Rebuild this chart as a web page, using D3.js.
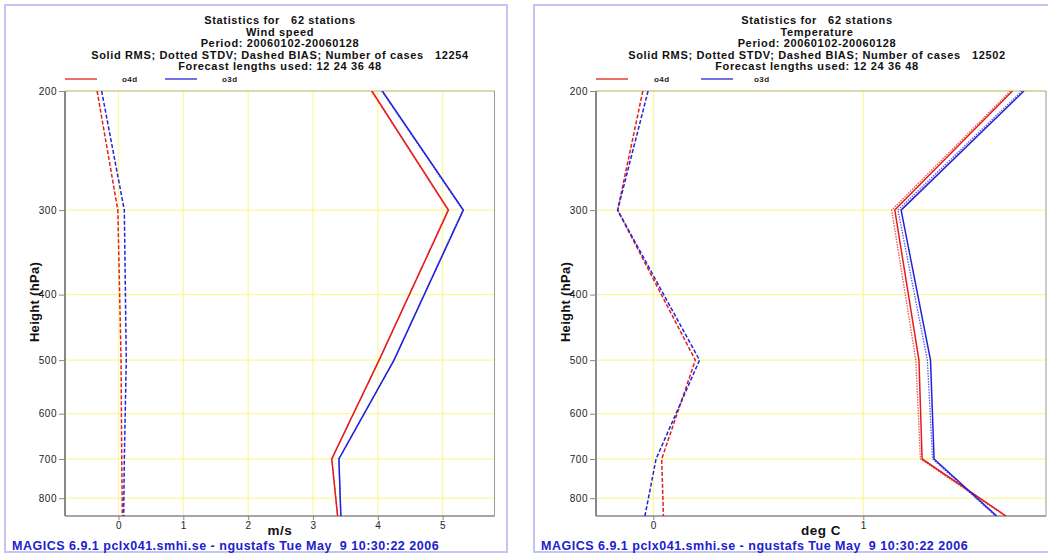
<!DOCTYPE html>
<html>
<head>
<meta charset="utf-8">
<script src="https://cdn.jsdelivr.net/npm/d3@7"></script>
<style>
  html, body { margin: 0; padding: 0; background: #fff; }
  svg { display: block; font-family: "Liberation Sans", Arial, Helvetica, sans-serif; }
</style>
</head>
<body>
<svg id="chart" width="1048" height="554"></svg>
<script>
// Pressure levels (hPa) of the verification profiles
const levels = [200, 300, 500, 700, 850];
const yTicks = [200, 300, 400, 500, 600, 700, 800];

// Wind speed (m/s)
const windRmsO4d  = [3.91, 5.09, 4.02, 3.29, 3.38];
const windRmsO3d  = [4.07, 5.32, 4.25, 3.40, 3.43];
const windStdvO4d = [3.90, 5.08, 4.02, 3.29, 3.38];
const windStdvO3d = [4.06, 5.31, 4.25, 3.40, 3.43];
const windBiasO4d = [-0.33, -0.01, 0.04, 0.05, 0.06];
const windBiasO3d = [-0.26, 0.09, 0.12, 0.09, 0.08];
const windXTicks  = [0, 1, 2, 3, 4, 5];
const windXDomain = [-0.825, 5.80];

// Temperature (deg C)
const tempRmsO4d  = [1.71, 1.15, 1.265, 1.28, 1.68];
const tempRmsO3d  = [1.765, 1.18, 1.32, 1.337, 1.635];
const tempStdvO4d = [1.70, 1.135, 1.25, 1.272, 1.675];
const tempStdvO3d = [1.755, 1.165, 1.305, 1.33, 1.63];
const tempBiasO4d = [-0.05, -0.17, 0.20, 0.04, 0.048];
const tempBiasO3d = [-0.025, -0.17, 0.22, 0.013, -0.04];
const tempXTicks  = [0, 1];
const tempXDomain = [-0.273, 1.87];

const footerText = "MAGICS 6.9.1 pclx041.smhi.se - ngustafs Tue May  9 10:30:22 2006";

const RED = "#e41c1c";
const BLUE = "#2222dd";

const svg = d3.select("#chart");

function drawPanel(p) {
  const root = svg.append("g");

  // panel frame
  root.append("rect")
    .attr("x", p.frame[0]).attr("y", p.frame[1])
    .attr("width", p.frame[2]).attr("height", p.frame[3])
    .attr("fill", "none").attr("stroke", "#c4c4f0").attr("stroke-width", 2);

  const x = d3.scaleLinear().domain(p.xDomain).range([p.left, p.right]);
  const y = d3.scaleLog().domain([200, 850]).range([91, 516]);

  // title block
  const cx = p.titleX;
  const titleLines = [
    "Statistics for   62 stations",
    p.param,
    "Period: 20060102-20060128",
    "Solid RMS; Dotted STDV; Dashed BIAS; Number of cases   " + p.cases,
    "Forecast lengths used: 12 24 36 48"
  ];
  root.append("g").selectAll("text").data(titleLines).join("text")
    .attr("x", cx).attr("y", (d, i) => 24 + i * 11.6)
    .attr("text-anchor", "middle")
    .attr("font-size", 11).attr("font-weight", "bold").attr("fill", "#111")
    .attr("letter-spacing", 0.65)
    .style("white-space", "pre")
    .text(d => d);

  // legend
  const leg = root.append("g");
  p.legend.forEach(l => {
    leg.append("line").attr("x1", l.x).attr("x2", l.x + 32).attr("y1", 79).attr("y2", 79)
      .attr("stroke", l.color).attr("stroke-width", 1.6).attr("opacity", 0.8);
    leg.append("text").attr("x", l.tx).attr("y", 82).attr("font-size", 8)
      .attr("letter-spacing", 0.4)
      .attr("font-weight", "bold").attr("fill", "#222").text(l.name);
  });

  // grid
  const grid = root.append("g").attr("stroke", "#fbf79a").attr("stroke-width", 1.2);
  grid.selectAll(".gx").data(p.xTicks).join("line")
    .attr("x1", d => x(d)).attr("x2", d => x(d)).attr("y1", 91).attr("y2", 516);
  grid.selectAll(".gy").data(yTicks).join("line")
    .attr("x1", p.left).attr("x2", p.right).attr("y1", d => y(d)).attr("y2", d => y(d));

  // plot frame: top and right
  root.append("line").attr("x1", p.left).attr("x2", p.right).attr("y1", 91).attr("y2", 91)
    .attr("stroke", "#b8b68c").attr("stroke-width", 1);
  root.append("line").attr("x1", p.right).attr("x2", p.right).attr("y1", 91).attr("y2", 516)
    .attr("stroke", "#999").attr("stroke-width", 1);

  // axes
  const yAxis = root.append("g").attr("transform", `translate(${p.left},0)`)
    .call(d3.axisLeft(y).tickValues(yTicks).tickFormat(d3.format("d")).tickSize(6).tickPadding(2));
  const xAxis = root.append("g").attr("transform", `translate(0,516)`)
    .call(d3.axisBottom(x).tickValues(p.xTicks).tickFormat(d3.format("d")).tickSize(4).tickPadding(2));
  [yAxis, xAxis].forEach(a => {
    a.select(".domain").attr("stroke", "#888").attr("stroke-width", 2);
    a.selectAll(".tick line").attr("stroke", "#888");
    a.selectAll(".tick text").attr("font-size", 10).attr("fill", "#222")
      .attr("letter-spacing", 0.5)
      .attr("font-family", "Liberation Sans, Arial, sans-serif");
  });
  yAxis.select(".domain").attr("d", `M0,91V516`);
  xAxis.select(".domain").attr("stroke-width", 1.5).attr("d", `M${p.left},0H${p.right}`);

  // axis titles
  root.append("text")
    .attr("transform", `translate(${p.ylabX},302) rotate(-90)`)
    .attr("text-anchor", "middle").attr("font-size", 13).attr("font-weight", "bold")
    .attr("letter-spacing", 0.3)
    .attr("fill", "#111").text("Height (hPa)");
  root.append("text").attr("x", p.xlabX).attr("y", 535)
    .attr("text-anchor", "middle").attr("font-size", 13.5).attr("font-weight", "bold")
    .attr("letter-spacing", 0.5)
    .attr("fill", "#111").text(p.unit);

  // footer
  root.append("text").attr("x", p.footX).attr("y", 550)
    .attr("font-size", 12.5).attr("font-weight", "bold").attr("fill", "#2020cc")
    .attr("letter-spacing", 0.5)
    .style("white-space", "pre").text(footerText);

  // profile lines
  const line = d3.line().x(d => x(d.v)).y(d => y(d.p));
  const clip = "clip-" + p.id;
  root.append("clipPath").attr("id", clip).append("rect")
    .attr("x", p.left).attr("y", 91).attr("width", p.right - p.left).attr("height", 425);
  const lines = root.append("g").attr("clip-path", `url(#${clip})`).attr("fill", "none");
  p.series.forEach(s => {
    lines.append("path")
      .datum(levels.map((lv, i) => ({ p: lv, v: s.values[i] })))
      .attr("d", line)
      .attr("stroke", s.color)
      .attr("stroke-width", s.dash === "dot" ? 1.3 : 1.5)
      .attr("stroke-dasharray", s.dash === "dash" ? "4,2" : s.dash === "dot" ? "1.5,1.2" : null)
      .attr("opacity", s.dash === "dot" ? 0.75 : 1);
  });
}

drawPanel({
  id: "wind",
  frame: [5, 5, 502, 547],
  left: 65, right: 494.5,
  xDomain: windXDomain, xTicks: windXTicks,
  titleX: 280, param: "Wind speed", cases: "12254",
  unit: "m/s", xlabX: 280, ylabX: 39, footX: 12,
  legend: [
    { x: 65, tx: 122, color: RED, name: "o4d" },
    { x: 165, tx: 222, color: BLUE, name: "o3d" }
  ],
  series: [
    { values: windStdvO4d, color: RED, dash: "dot" },
    { values: windStdvO3d, color: BLUE, dash: "dot" },
    { values: windBiasO4d, color: RED, dash: "dash" },
    { values: windBiasO3d, color: BLUE, dash: "dash" },
    { values: windRmsO4d, color: RED, dash: null },
    { values: windRmsO3d, color: BLUE, dash: null }
  ]
});

drawPanel({
  id: "temp",
  frame: [534, 5, 530, 547],
  left: 596, right: 1046,
  xDomain: tempXDomain, xTicks: tempXTicks,
  titleX: 817, param: "Temperature", cases: "12502",
  unit: "deg C", xlabX: 821, ylabX: 570, footX: 541,
  legend: [
    { x: 596, tx: 654, color: RED, name: "o4d" },
    { x: 701, tx: 754, color: BLUE, name: "o3d" }
  ],
  series: [
    { values: tempStdvO4d, color: RED, dash: "dot" },
    { values: tempStdvO3d, color: BLUE, dash: "dot" },
    { values: tempBiasO4d, color: RED, dash: "dash" },
    { values: tempBiasO3d, color: BLUE, dash: "dash" },
    { values: tempRmsO4d, color: RED, dash: null },
    { values: tempRmsO3d, color: BLUE, dash: null }
  ]
});
</script>
</body>
</html>
